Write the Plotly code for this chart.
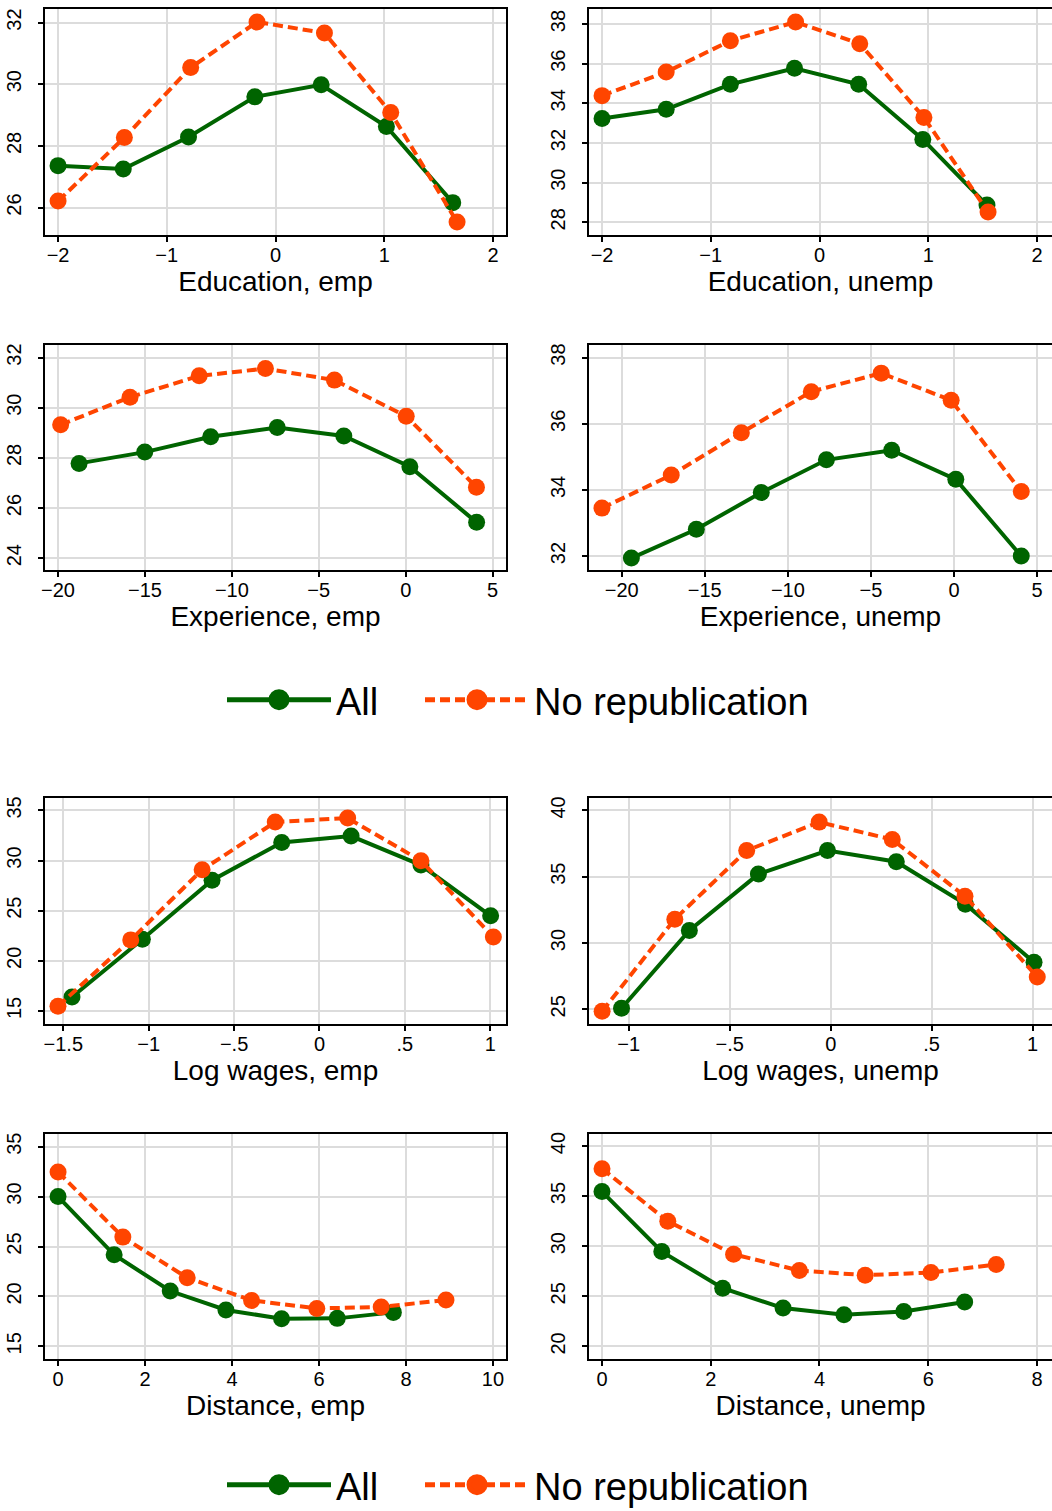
import plotly.graph_objects as go

GREEN = "#006400"
ORANGE = "#FF4500"
FONT = "Liberation Sans, Arial, sans-serif"

# ---- Education, employed
edu_emp_x_all = [-2.00, -1.40, -0.80, -0.19, 0.42, 1.02, 1.63]
edu_emp_all = [27.36, 27.25, 28.29, 29.59, 29.98, 28.63, 26.16]
edu_emp_x_norep = [-2.00, -1.39, -0.78, -0.17, 0.45, 1.06, 1.67]
edu_emp_norep = [26.21, 28.27, 30.54, 32.02, 31.66, 29.08, 25.53]

# ---- Education, unemployed
edu_unemp_x_all = [-2.00, -1.41, -0.82, -0.23, 0.36, 0.95, 1.54]
edu_unemp_all = [33.24, 33.70, 34.96, 35.77, 34.96, 32.18, 28.87]
edu_unemp_x_norep = [-2.00, -1.41, -0.82, -0.22, 0.37, 0.96, 1.55]
edu_unemp_norep = [34.39, 35.58, 37.16, 38.10, 37.01, 33.29, 28.52]

# ---- Experience, employed
exp_emp_x_all = [-18.79, -15.01, -11.22, -7.39, -3.56, 0.24, 4.08]
exp_emp_all = [27.78, 28.23, 28.84, 29.21, 28.87, 27.65, 25.43]
exp_emp_x_norep = [-19.85, -15.86, -11.88, -8.07, -4.10, 0.03, 4.07]
exp_emp_norep = [29.32, 30.42, 31.27, 31.56, 31.10, 29.66, 26.83]

# ---- Experience, unemployed
exp_unemp_x_all = [-19.42, -15.51, -11.60, -7.68, -3.75, 0.11, 4.05]
exp_unemp_all = [31.94, 32.81, 33.92, 34.91, 35.20, 34.32, 32.00]
exp_unemp_x_norep = [-21.19, -17.02, -12.80, -8.59, -4.38, -0.17, 4.05]
exp_unemp_norep = [33.45, 34.45, 35.73, 36.97, 37.53, 36.71, 33.95]

# ---- Log wages, employed
lw_emp_x_all = [-1.449, -1.037, -0.629, -0.221, 0.185, 0.594, 1.002]
lw_emp_all = [16.40, 22.15, 28.04, 31.81, 32.44, 29.55, 24.49]
lw_emp_x_norep = [-1.531, -1.105, -0.687, -0.259, 0.165, 0.594, 1.018]
lw_emp_norep = [15.47, 22.09, 29.08, 33.84, 34.24, 29.98, 22.37]

# ---- Log wages, unemployed
lw_unemp_x_all = [-1.036, -0.700, -0.358, -0.016, 0.325, 0.667, 1.007]
lw_unemp_all = [25.08, 30.94, 35.20, 36.98, 36.13, 32.93, 28.55]
lw_unemp_x_norep = [-1.132, -0.772, -0.416, -0.057, 0.305, 0.665, 1.023]
lw_unemp_norep = [24.85, 31.80, 36.98, 39.12, 37.81, 33.53, 27.44]

# ---- Distance, employed
dist_emp_x_all = [0.00, 1.29, 2.58, 3.86, 5.14, 6.42, 7.71]
dist_emp_all = [30.00, 24.17, 20.54, 18.64, 17.77, 17.80, 18.40]
dist_emp_x_norep = [0.00, 1.49, 2.97, 4.45, 5.95, 7.43, 8.92]
dist_emp_norep = [32.47, 25.94, 21.87, 19.60, 18.80, 18.94, 19.64]

# ---- Distance, unemployed
dist_unemp_x_all = [0.00, 1.10, 2.22, 3.33, 4.45, 5.55, 6.67]
dist_unemp_all = [35.45, 29.46, 25.81, 23.82, 23.15, 23.48, 24.42]
dist_unemp_x_norep = [0.00, 1.21, 2.42, 3.63, 4.84, 6.05, 7.25]
dist_unemp_norep = [37.74, 32.49, 29.20, 27.57, 27.11, 27.37, 28.17]

# ---- Tick values and labels
edu_xticks = [-2, -1, 0, 1, 2]
edu_xlabels = ["\u22122", "\u22121", "0", "1", "2"]
exp_xticks = [-20, -15, -10, -5, 0, 5]
exp_xlabels = ["\u221220", "\u221215", "\u221210", "\u22125", "0", "5"]
lw_emp_xticks = [-1.5, -1, -0.5, 0, 0.5, 1]
lw_emp_xlabels = ["\u22121.5", "\u22121", "\u2212.5", "0", ".5", "1"]
lw_unemp_xticks = [-1, -0.5, 0, 0.5, 1]
lw_unemp_xlabels = ["\u22121", "\u2212.5", "0", ".5", "1"]
dist_emp_xticks = [0, 2, 4, 6, 8, 10]
dist_unemp_xticks = [0, 2, 4, 6, 8]

edu_emp_yticks = [26, 28, 30, 32]
edu_unemp_yticks = [28, 30, 32, 34, 36, 38]
exp_emp_yticks = [24, 26, 28, 30, 32]
exp_unemp_yticks = [32, 34, 36, 38]
lw_emp_yticks = [15, 20, 25, 30, 35]
lw_unemp_yticks = [25, 30, 35, 40]
dist_emp_yticks = [15, 20, 25, 30, 35]
dist_unemp_yticks = [20, 25, 30, 35, 40]

SERIES_NAMES = ["All", "No republication"]

W, H = 1052, 1511
LEFT = (45, 506)
RIGHT = (589, 1052)
ROWS = [(9, 235), (345, 570), (798, 1024), (1134, 1359)]


def xdom(px):
    return [px[0] / W, px[1] / W]


def ydom(py):
    return [1 - py[1] / H, 1 - py[0] / H]


panels = [
    dict(title="Education, emp", data=(edu_emp_x_all, edu_emp_all, edu_emp_x_norep, edu_emp_norep),
         xr=[-2.12, 2.12], yr=[25.11, 32.44], xt=edu_xticks, xl=edu_xlabels, yt=edu_emp_yticks,
         col=LEFT, row=ROWS[0]),
    dict(title="Education, unemp", data=(edu_unemp_x_all, edu_unemp_all, edu_unemp_x_norep, edu_unemp_norep),
         xr=[-2.12, 2.138], yr=[27.36, 38.76], xt=edu_xticks, xl=edu_xlabels, yt=edu_unemp_yticks,
         col=RIGHT, row=ROWS[0]),
    dict(title="Experience, emp", data=(exp_emp_x_all, exp_emp_all, exp_emp_x_norep, exp_emp_norep),
         xr=[-20.75, 5.77], yr=[23.53, 32.5], xt=exp_xticks, xl=exp_xlabels, yt=exp_emp_yticks,
         col=LEFT, row=ROWS[1]),
    dict(title="Experience, unemp", data=(exp_unemp_x_all, exp_unemp_all, exp_unemp_x_norep, exp_unemp_norep),
         xr=[-21.97, 5.90], yr=[31.58, 38.38], xt=exp_xticks, xl=exp_xlabels, yt=exp_unemp_yticks,
         col=RIGHT, row=ROWS[1]),
    dict(title="Log wages, emp", data=(lw_emp_x_all, lw_emp_all, lw_emp_x_norep, lw_emp_norep),
         xr=[-1.607, 1.092], yr=[13.7, 36.24], xt=lw_emp_xticks, xl=lw_emp_xlabels, yt=lw_emp_yticks,
         col=LEFT, row=ROWS[2]),
    dict(title="Log wages, unemp", data=(lw_unemp_x_all, lw_unemp_all, lw_unemp_x_norep, lw_unemp_norep),
         xr=[-1.197, 1.096], yr=[23.89, 40.94], xt=lw_unemp_xticks, xl=lw_unemp_xlabels, yt=lw_unemp_yticks,
         col=RIGHT, row=ROWS[2]),
    dict(title="Distance, emp", data=(dist_emp_x_all, dist_emp_all, dist_emp_x_norep, dist_emp_norep),
         xr=[-0.3, 10.3], yr=[13.73, 36.27], xt=dist_emp_xticks, xl=[str(v) for v in dist_emp_xticks],
         yt=dist_emp_yticks, col=LEFT, row=ROWS[3]),
    dict(title="Distance, unemp", data=(dist_unemp_x_all, dist_unemp_all, dist_unemp_x_norep, dist_unemp_norep),
         xr=[-0.239, 8.276], yr=[18.74, 41.2], xt=dist_unemp_xticks, xl=[str(v) for v in dist_unemp_xticks],
         yt=dist_unemp_yticks, col=RIGHT, row=ROWS[3]),
]

STYLES = [
    (SERIES_NAMES[0], GREEN, "solid"),
    (SERIES_NAMES[1], ORANGE, "10px,5px"),
]

fig = go.Figure()
layout = {}

for i, p in enumerate(panels, start=1):
    xa = "x" if i == 1 else f"x{i}"
    ya = "y" if i == 1 else f"y{i}"
    xall, yall, xnr, ynr = p["data"]
    for (xs, ys), (name, color, dash) in zip([(xall, yall), (xnr, ynr)], STYLES):
        fig.add_trace(go.Scatter(
            x=xs, y=ys, name=name, mode="lines+markers",
            line=dict(color=color, width=4, dash=dash),
            marker=dict(color=color, size=17, line=dict(width=0)),
            xaxis=xa, yaxis=ya, showlegend=False,
        ))

    common = dict(
        showline=True, mirror=True, linecolor="black", linewidth=1.5,
        ticks="outside", ticklen=5, tickwidth=1.5, tickcolor="black",
        showgrid=True, gridcolor="#DCDCDC", gridwidth=1.5, zeroline=False,
        tickfont=dict(family=FONT, size=20, color="black"),
    )
    layout[f"xaxis{'' if i == 1 else i}"] = dict(
        common, domain=xdom(p["col"]), range=p["xr"], anchor=ya,
        tickmode="array", tickvals=p["xt"], ticktext=p["xl"], ticklabelstandoff=-4,
        title=dict(text=p["title"], font=dict(family=FONT, size=28, color="black"), standoff=0),
    )
    layout[f"yaxis{'' if i == 1 else i}"] = dict(
        common, domain=ydom(p["row"]), range=p["yr"], anchor=xa,
        tickmode="array", tickvals=p["yt"], ticktext=[str(v) for v in p["yt"]],
        tickangle=-90, ticklabelstandoff=9,
    )

# Legend keys: one single-entry legend per series, repeated under each half
legend_left_px = [222, 420]          # left edge of each key
legend_mid_px = [700, 1485]          # vertical centre of each legend row
legend_common = dict(
    orientation="h", xanchor="left", yanchor="middle",
    font=dict(family=FONT, size=38, color="black"),
    bgcolor="rgba(0,0,0,0)", itemwidth=104, itemsizing="trace",
)
n = 0
for mid in legend_mid_px:
    for (name, color, dash), left in zip(STYLES, legend_left_px):
        n += 1
        lid = "legend" if n == 1 else f"legend{n}"
        fig.add_trace(go.Scatter(
            x=[None], y=[None], name=name, mode="lines+markers",
            line=dict(color=color, width=5, dash=dash),
            marker=dict(color=color, size=16, line=dict(color=color, width=6)),
            legend=lid, showlegend=True, hoverinfo="skip",
        ))
        layout[lid] = dict(legend_common, x=left / W, y=1 - mid / H)

fig.update_layout(
    width=W, height=H,
    margin=dict(l=0, r=0, t=0, b=0, autoexpand=False),
    paper_bgcolor="white", plot_bgcolor="white",
    font=dict(family=FONT, color="black"),
    **layout,
)

fig.write_html("out.html")
